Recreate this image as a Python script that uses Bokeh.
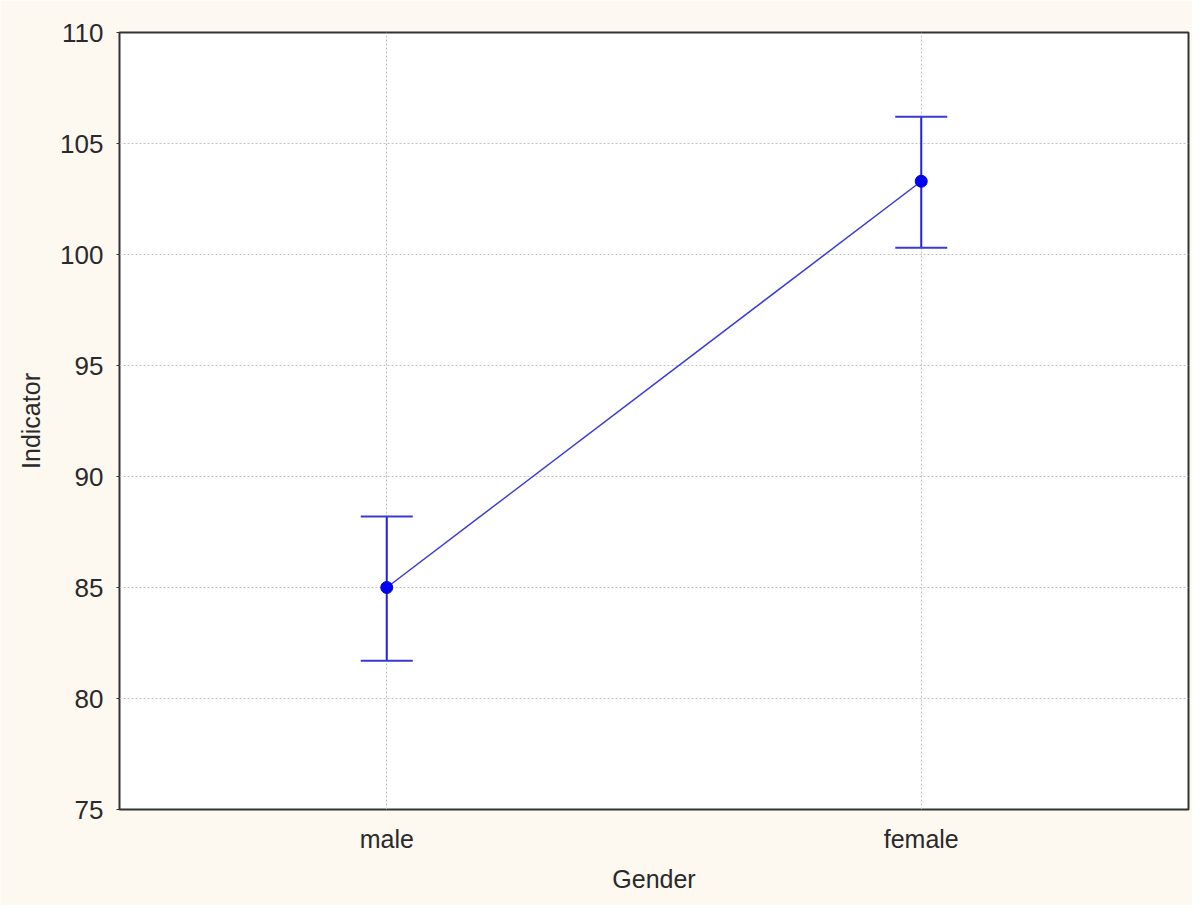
from bokeh.plotting import figure
from bokeh.models import ColumnDataSource, Whisker, TeeHead, FactorRange, Range1d, FixedTicker
from bokeh.embed import file_html
from bokeh.resources import INLINE

genders = ["male", "female"]
means = [85.0, 103.3]
lower = [81.7, 100.3]
upper = [88.2, 106.2]
y_ticks = [75, 80, 85, 90, 95, 100, 105, 110]

src = ColumnDataSource(dict(x=genders, m=means, lo=lower, hi=upper))

FONT = "Liberation Sans"
p = figure(x_range=FactorRange(*genders), y_range=Range1d(75, 110),
           width=1192, height=905, output_backend="svg", toolbar_location=None,
           min_border_left=119, min_border_right=4, min_border_top=32, min_border_bottom=96)
p.background_fill_color = "white"
p.border_fill_color = "#fdf8f0"
p.outline_line_color = "#333333"
p.outline_line_width = 2

p.line("x", "m", source=src, line_color="#3a3ad8", line_width=1.5)
w = Whisker(base="x", upper="hi", lower="lo", source=src,
            line_color="#2020e0", line_width=2,
            upper_head=TeeHead(size=52, line_color="#3a3ad0", line_width=2),
            lower_head=TeeHead(size=52, line_color="#3a3ad0", line_width=2))
p.add_layout(w)
p.scatter("x", "m", source=src, size=12, color="#0000f0")

for g in (p.xgrid, p.ygrid):
    g.grid_line_color = "#c0c0c0"
    g.grid_line_dash = "2 2"
    g.grid_line_width = 1

p.yaxis.ticker = FixedTicker(ticks=y_ticks)
p.yaxis.axis_label = "Indicator"
p.xaxis.axis_label = "Gender"
for ax in (p.xaxis[0], p.yaxis[0]):
    ax.axis_line_color = None
    ax.major_tick_line_color = "#333333"
    ax.major_tick_in = 0
    ax.major_tick_out = 3
    ax.minor_tick_line_color = None
    ax.major_label_text_font = FONT
    ax.major_label_text_font_size = "25px"
    ax.major_label_text_color = "#2a2a2a"
    ax.axis_label_text_font = FONT
    ax.axis_label_text_font_size = "25px"
    ax.axis_label_text_font_style = "normal"
    ax.axis_label_text_color = "#2a2a2a"
p.yaxis.major_label_text_font_size = "26px"
p.xaxis.major_tick_line_color = None
p.yaxis.major_label_standoff = 13
p.yaxis.axis_label_standoff = 12
p.xaxis.major_label_standoff = 12
p.xaxis.axis_label_standoff = 9

open("out.html", "w").write(file_html(p, INLINE))
